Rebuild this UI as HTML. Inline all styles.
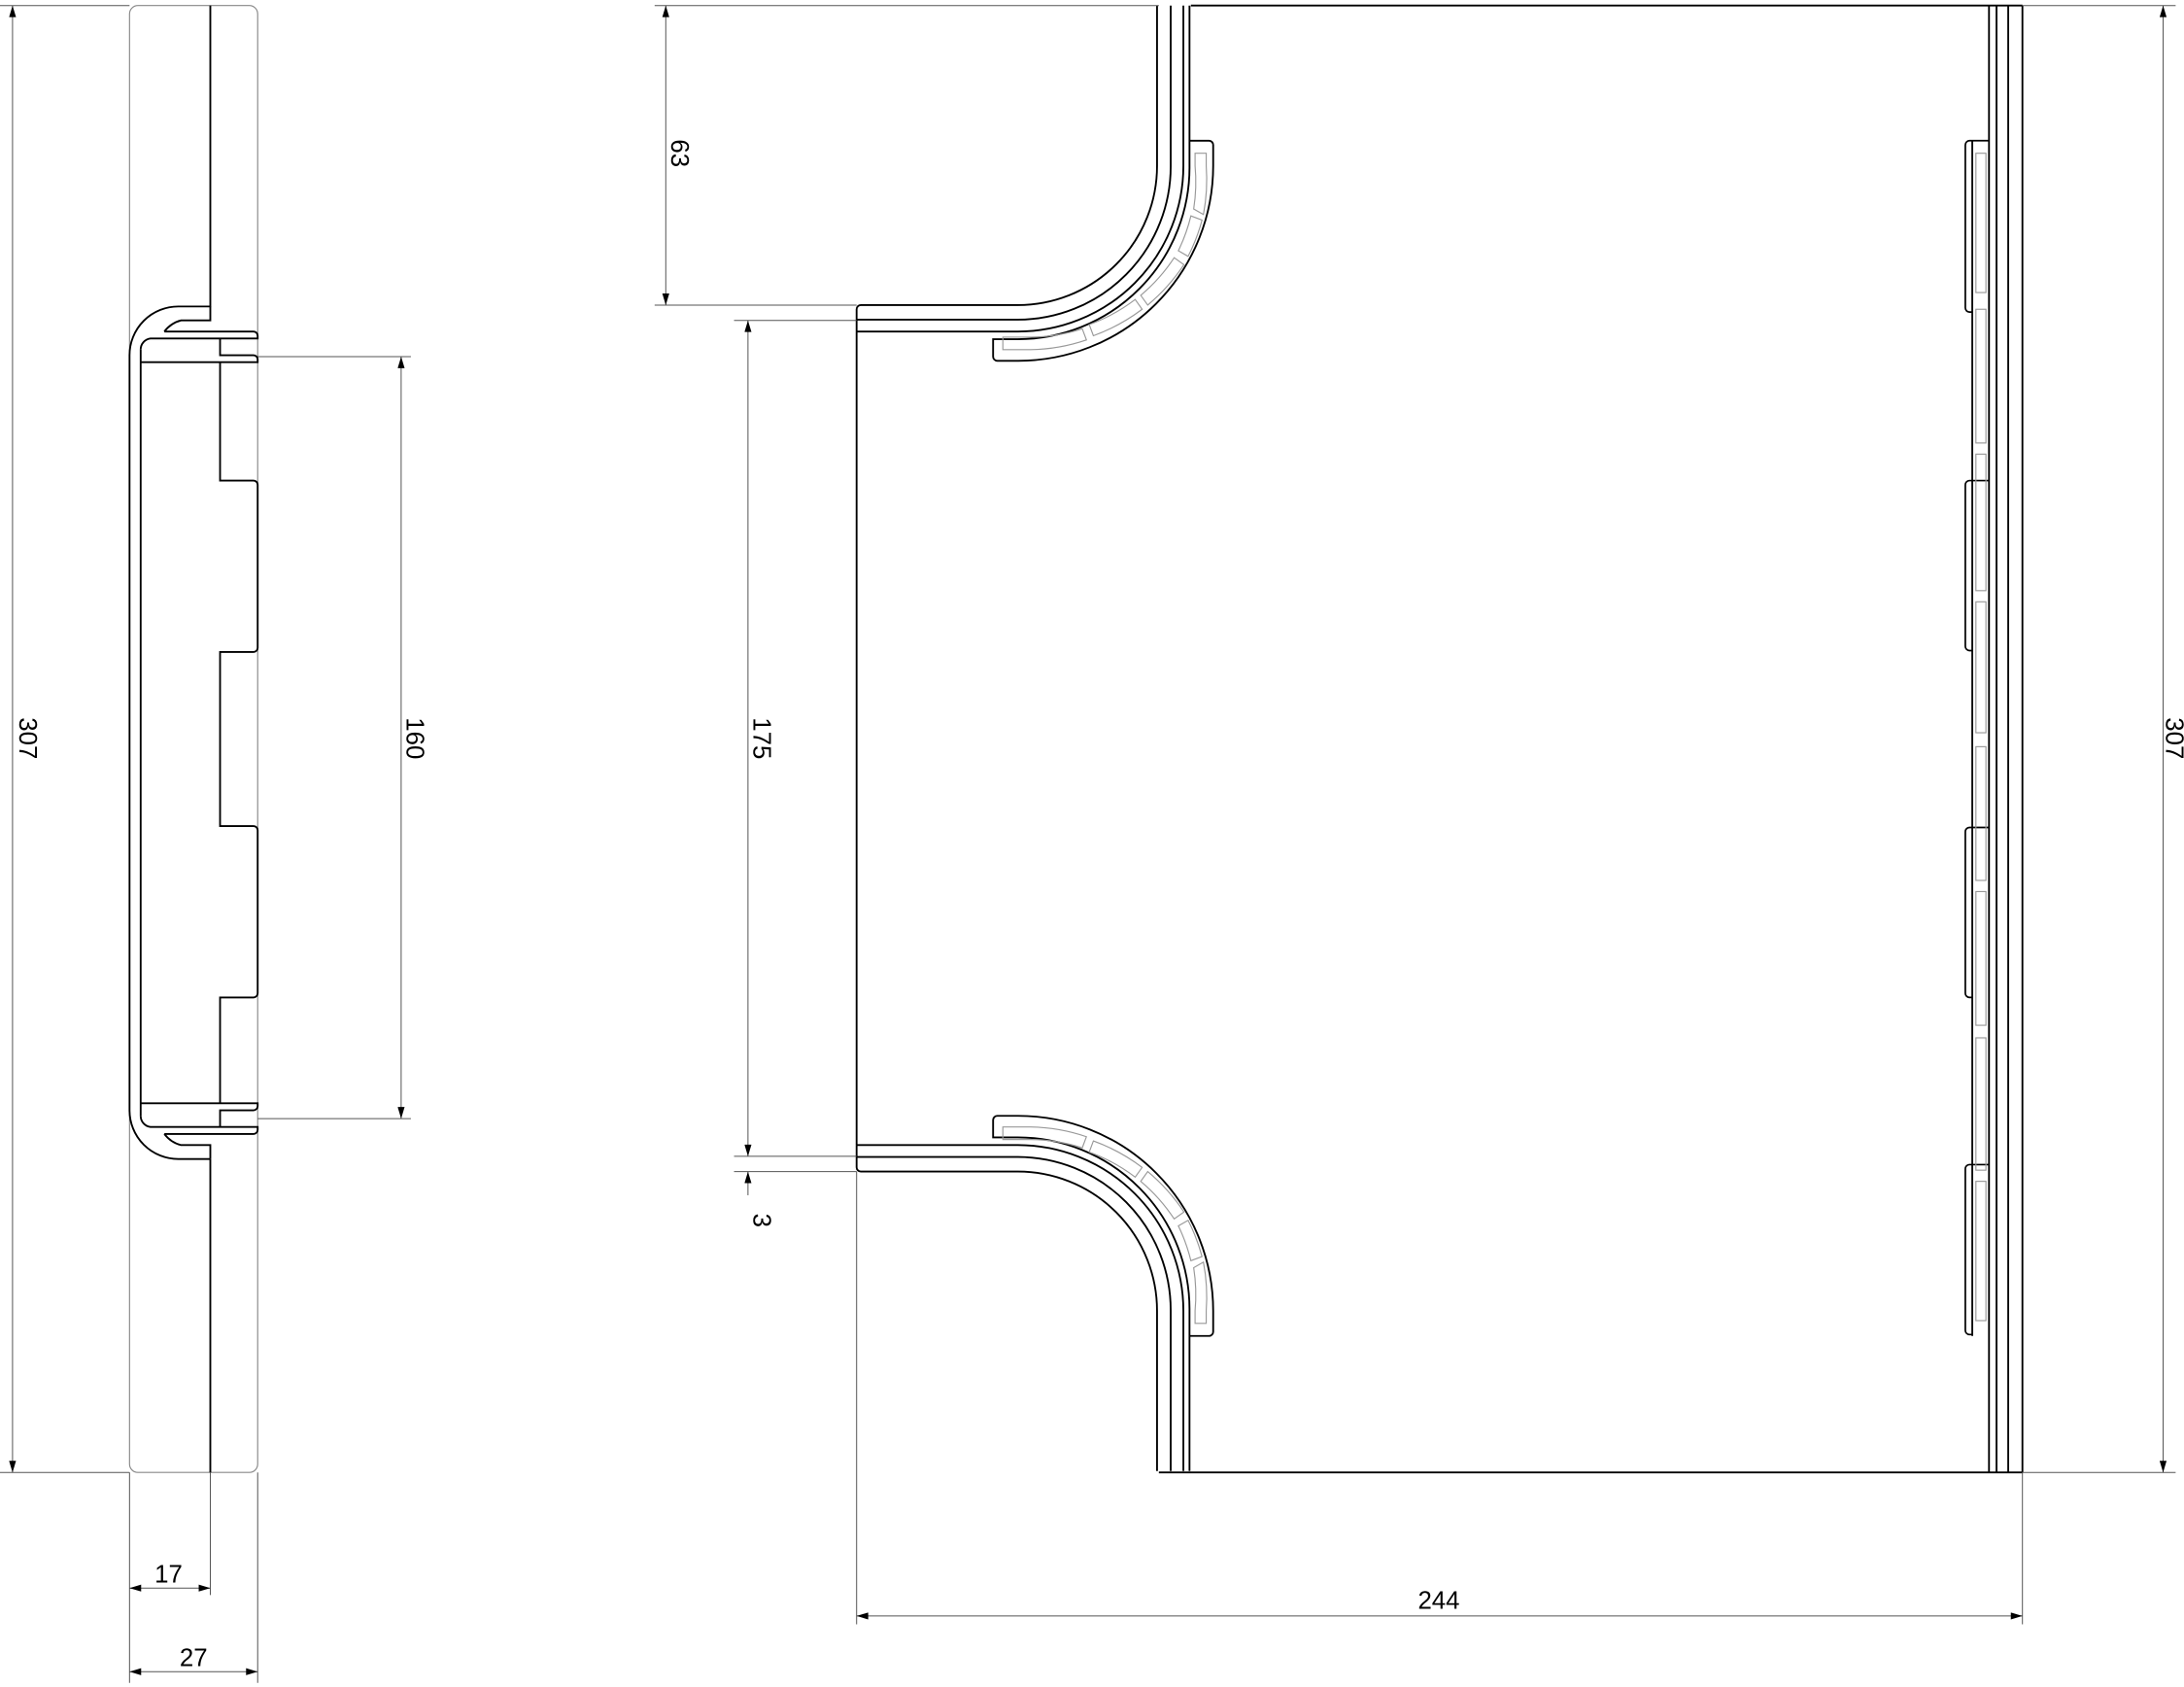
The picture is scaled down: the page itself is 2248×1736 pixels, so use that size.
<!DOCTYPE html>
<html><head><meta charset="utf-8"><style>html,body{margin:0;padding:0;background:#fff}svg{display:block}</style></head><body>
<svg width="2248" height="1736" viewBox="0 0 1568 1211" preserveAspectRatio="none" xmlns="http://www.w3.org/2000/svg">
<defs>
<marker id="a" viewBox="0 0 10 6" refX="10" refY="3" markerWidth="9" markerHeight="5" orient="auto-start-reverse" markerUnits="userSpaceOnUse"><path d="M0,0 L10,3 L0,6 z" fill="#000"/></marker>
</defs>
<g fill="none" stroke="#000" stroke-width="1.3">
<!-- LEFT VIEW -->
<path d="M93,255 V10 a6,6 0 0 1 6,-6 H179 a6,6 0 0 1 6,6 V1051 a6,6 0 0 1 -6,6 H99 a6,6 0 0 1 -6,-6 V797" stroke="#888" stroke-width="0.8"/>
<path d="M151,1057 V832" stroke="#777" stroke-width="0.8"/>
<g>
<path d="M151,4 V220 H128 A35,35 0 0 0 93,255"/>
<path d="M151,220 V230 H130 A22,22 0 0 0 118,238"/>
<path d="M118,238 H182 a3,3 0 0 1 3,3 v2 H108 A8,8 0 0 0 101,251"/>
<path d="M158,243 V255 H182 a3,3 0 0 1 3,3 v2 H101"/>
</g>
<g transform="translate(0,1052) scale(1,-1)">
<path d="M151,220 H128 A35,35 0 0 0 93,255"/>
<path d="M151,220 V230 H130 A22,22 0 0 0 118,238"/>
<path d="M118,238 H182 a3,3 0 0 1 3,3 v2 H108 A8,8 0 0 0 101,251"/>
<path d="M158,243 V255 H182 a3,3 0 0 1 3,3 v2 H101"/>
</g>
<path d="M151,832 V1057 M93,255 V797 M101,251 V801"/>
<path d="M158,260 V345 H182 a3,3 0 0 1 3,3 V465 a3,3 0 0 1 -3,3 H158 V593 H182 a3,3 0 0 1 3,3 V713 a3,3 0 0 1 -3,3 H158 V792"/>
<!-- RIGHT VIEW -->
<path d="M855,4 H1452 M832,1057 H1452"/>
<path d="M1428,4 V1057 M1433.4,4 V1057 M1441.8,4 V1057 M1452,4 V1057"/>
<path d="M1416,101 V959"/>
<g stroke-width="1.2">
<path d="M1428,101 H1414 a3,3 0 0 0 -3,3 V221 a3,3 0 0 0 3,3 H1416"/>
<path d="M1428,345 H1414 a3,3 0 0 0 -3,3 V464 a3,3 0 0 0 3,3 H1416"/>
<path d="M1428,594 H1414 a3,3 0 0 0 -3,3 V713 a3,3 0 0 0 3,3 H1416"/>
<path d="M1428,836 H1414 a3,3 0 0 0 -3,3 V955 a3,3 0 0 0 3,3 H1416"/>
</g>
<g stroke="#999" stroke-width="0.8">
<rect x="1418.6" y="110" width="7.2" height="100"/><rect x="1418.6" y="222" width="7.2" height="96"/>
<rect x="1418.6" y="326" width="7.2" height="98"/><rect x="1418.6" y="432" width="7.2" height="94"/>
<rect x="1418.6" y="536" width="7.2" height="96"/><rect x="1418.6" y="640" width="7.2" height="96"/>
<rect x="1418.6" y="745" width="7.2" height="95"/><rect x="1418.6" y="848" width="7.2" height="100"/>
</g>
<path d="M615,238 V822"/>
<g>
<path d="M830.7,4 V119 A100,100 0 0 1 730.7,219 H618 a3,3 0 0 0 -3,3 V238"/>
<path d="M840.5,4 V119 A110,110 0 0 1 730.7,229.5 H615"/>
<path d="M849.6,4 V119 A119,119 0 0 1 730.7,238 H615"/>
<path d="M854,4 V101 H868 a3,3 0 0 1 3,3 V119 A140,140 0 0 1 730.7,259 H716 a3,3 0 0 1 -3,-3 V243.5 H730.7 A123.3,123.3 0 0 0 854,119 V101"/>
<g stroke="#999" stroke-width="0.8">
<path d="M720,242 H740 A121,121 0 0 0 777,236 L780,244 A131,131 0 0 1 740,251 H720 Z"/>
<path d="M782,233 A125,125 0 0 0 815,215 L820,222 A134,134 0 0 1 785,241 Z"/>
<path d="M819,212 A125,125 0 0 0 843,185 L850,190 A134,134 0 0 1 824,219 Z"/>
<path d="M846,180 A125,125 0 0 0 855,155 L863,158 A134,134 0 0 1 853,184 Z"/>
<path d="M857,150 A125,125 0 0 0 858,119 V110 H866 V119 A134,134 0 0 1 864,154 Z"/>
</g>
</g>
<g transform="translate(0,1060) scale(1,-1)">
<path d="M830.7,4 V119 A100,100 0 0 1 730.7,219 H618 a3,3 0 0 0 -3,3 V238"/>
<path d="M840.5,4 V119 A110,110 0 0 1 730.7,229.5 H615"/>
<path d="M849.6,4 V119 A119,119 0 0 1 730.7,238 H615"/>
<path d="M854,4 V101 H868 a3,3 0 0 1 3,3 V119 A140,140 0 0 1 730.7,259 H716 a3,3 0 0 1 -3,-3 V243.5 H730.7 A123.3,123.3 0 0 0 854,119 V101"/>
<g stroke="#999" stroke-width="0.8">
<path d="M720,242 H740 A121,121 0 0 0 777,236 L780,244 A131,131 0 0 1 740,251 H720 Z"/>
<path d="M782,233 A125,125 0 0 0 815,215 L820,222 A134,134 0 0 1 785,241 Z"/>
<path d="M819,212 A125,125 0 0 0 843,185 L850,190 A134,134 0 0 1 824,219 Z"/>
<path d="M846,180 A125,125 0 0 0 855,155 L863,158 A134,134 0 0 1 853,184 Z"/>
<path d="M857,150 A125,125 0 0 0 858,119 V110 H866 V119 A134,134 0 0 1 864,154 Z"/>
</g>
</g>
</g>
<!-- DIMENSIONS -->
<g stroke="#555" stroke-width="0.7" fill="none">
<path d="M0,4 H93 M0,1057 H93 M185,256 H295 M185,803 H295 M93,1057 V1208 M151,1057 V1145 M185,1057 V1208"/>
<path d="M470,4 H832 M470,219 H615 M527,230 H615 M527,830 H615 M527,841 H615 M615,841 V1166 M1452,1057 V1166 M1452,4 H1562 M1452,1057 H1562"/>
<path d="M9,4 V1057" marker-start="url(#a)" marker-end="url(#a)"/>
<path d="M288,256 V803" marker-start="url(#a)" marker-end="url(#a)"/>
<path d="M93,1140 H151" marker-start="url(#a)" marker-end="url(#a)"/>
<path d="M93,1200 H185" marker-start="url(#a)" marker-end="url(#a)"/>
<path d="M478,4 V219" marker-start="url(#a)" marker-end="url(#a)"/>
<path d="M537,230 V830" marker-start="url(#a)" marker-end="url(#a)"/>
<path d="M537,858 V841" marker-end="url(#a)"/>
<path d="M615,1160 H1452" marker-start="url(#a)" marker-end="url(#a)"/>
<path d="M1553,4 V1057" marker-start="url(#a)" marker-end="url(#a)"/>
</g>
<g font-family="Liberation Sans, sans-serif" font-size="18" fill="#000" text-anchor="middle">
<text transform="translate(14,530) rotate(90)">307</text>
<text transform="translate(292,530) rotate(90)">160</text>
<text transform="translate(482,110) rotate(90)">63</text>
<text transform="translate(541,530) rotate(90)">175</text>
<text transform="translate(541,876) rotate(90)">3</text>
<text transform="translate(1555,530) rotate(90)">307</text>
<text x="121" y="1136">17</text>
<text x="139" y="1196">27</text>
<text x="1033" y="1155">244</text>
</g>
</svg>
</body></html>
